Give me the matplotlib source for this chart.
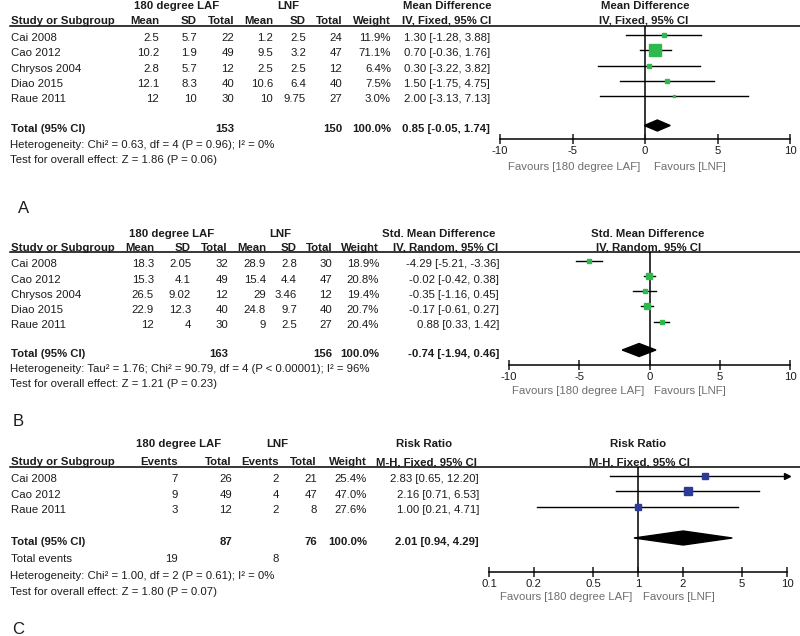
import matplotlib
matplotlib.use('Agg')
import matplotlib.pyplot as plt
from matplotlib.lines import Line2D
from matplotlib.ticker import NullLocator

plt.rcParams['font.family'] = ['Liberation Sans', 'DejaVu Sans']
plt.rcParams['axes.unicode_minus'] = False

# ---------------- data ----------------
# Panel A : Mean Difference, IV fixed
studies_A = ["Cai 2008", "Cao 2012", "Chrysos 2004", "Diao 2015", "Raue 2011"]
laf_mean_A = [2.5, 10.2, 2.8, 12.1, 12]
laf_sd_A = [5.7, 1.9, 5.7, 8.3, 10]
laf_n_A = [22, 49, 12, 40, 30]
lnf_mean_A = [1.2, 9.5, 2.5, 10.6, 10]
lnf_sd_A = [2.5, 3.2, 2.5, 6.4, 9.75]
lnf_n_A = [24, 47, 12, 40, 27]
weight_A = [11.9, 71.1, 6.4, 7.5, 3.0]
est_A = [1.30, 0.70, 0.30, 1.50, 2.00]
lo_A = [-1.28, -0.36, -3.22, -1.75, -3.13]
hi_A = [3.88, 1.76, 3.82, 4.75, 7.13]
total_A = {"n1": 153, "n2": 150, "est": 0.85, "lo": -0.05, "hi": 1.74}
het_A = "Heterogeneity: Chi\u00b2 = 0.63, df = 4 (P = 0.96); I\u00b2 = 0%"
test_A = "Test for overall effect: Z = 1.86 (P = 0.06)"

# Panel B : Std. Mean Difference, IV random
studies_B = ["Cai 2008", "Cao 2012", "Chrysos 2004", "Diao 2015", "Raue 2011"]
laf_mean_B = [18.3, 15.3, 26.5, 22.9, 12]
laf_sd_B = [2.05, 4.1, 9.02, 12.3, 4]
laf_n_B = [32, 49, 12, 40, 30]
lnf_mean_B = [28.9, 15.4, 29, 24.8, 9]
lnf_sd_B = [2.8, 4.4, 3.46, 9.7, 2.5]
lnf_n_B = [30, 47, 12, 40, 27]
weight_B = [18.9, 20.8, 19.4, 20.7, 20.4]
est_B = [-4.29, -0.02, -0.35, -0.17, 0.88]
lo_B = [-5.21, -0.42, -1.16, -0.61, 0.33]
hi_B = [-3.36, 0.38, 0.45, 0.27, 1.42]
total_B = {"n1": 163, "n2": 156, "est": -0.74, "lo": -1.94, "hi": 0.46}
het_B = "Heterogeneity: Tau\u00b2 = 1.76; Chi\u00b2 = 90.79, df = 4 (P < 0.00001); I\u00b2 = 96%"
test_B = "Test for overall effect: Z = 1.21 (P = 0.23)"

# Panel C : Risk Ratio, M-H fixed
studies_C = ["Cai 2008", "Cao 2012", "Raue 2011"]
laf_ev_C = [7, 9, 3]
laf_n_C = [26, 49, 12]
lnf_ev_C = [2, 4, 2]
lnf_n_C = [21, 47, 8]
weight_C = [25.4, 47.0, 27.6]
est_C = [2.83, 2.16, 1.00]
lo_C = [0.65, 0.71, 0.21]
hi_C = [12.20, 6.53, 4.71]
total_C = {"n1": 87, "n2": 76, "ev1": 19, "ev2": 8, "est": 2.01, "lo": 0.94, "hi": 4.29}
het_C = "Heterogeneity: Chi\u00b2 = 1.00, df = 2 (P = 0.61); I\u00b2 = 0%"
test_C = "Test for overall effect: Z = 1.80 (P = 0.07)"

ticks_lin = [-10, -5, 0, 5, 10]
ticks_log = [0.1, 0.2, 0.5, 1, 2, 5, 10]
ticklabels_log = ["0.1", "0.2", "0.5", "1", "2", "5", "10"]
fav_left = "Favours [180 degree LAF]"
fav_right = "Favours [LNF]"

# ---------------- style ----------------
W, H = 800, 636
FS = 8.2
TXT = '#1c1c1c'
GRAY = '#6e6e6e'
GREEN = '#2fb84e'
BLUE = '#2c3b98'

fig = plt.figure(figsize=(W / 100, H / 100), dpi=100)


def T(x, y, s, ha='left', bold=False, color=TXT, size=FS):
    cap = 0.716 * size * 100 / 72
    fig.text(x / W, 1 - (y + cap / 2) / H, s, ha=ha, va='baseline', fontsize=size,
             fontweight='bold' if bold else 'normal', color=color)


def hline(y, x0=10, x1=800):
    fig.add_artist(Line2D([x0 / W, x1 / W], [1 - y / H, 1 - y / H], color='black', lw=1.1))


def fmt(v):
    return str(v)


def ci(e, l, h):
    return f"{e:.2f} [{l:.2f}, {h:.2f}]"


def forest_axes(x0, x1, y0, y1, xlim, log=False):
    ax = fig.add_axes([x0 / W, 1 - y1 / H, (x1 - x0) / W, (y1 - y0) / H])
    ax.set_facecolor('none')
    if log:
        ax.set_xscale('log')
    ax.set_xlim(*xlim)
    ax.set_ylim(y1, y0)
    for s in ['top', 'right', 'left']:
        ax.spines[s].set_visible(False)
    ax.spines['bottom'].set_linewidth(1.1)
    ax.tick_params(axis='x', direction='inout', length=7, width=1.1, pad=2,
                   labelsize=FS, colors=TXT)
    ax.set_yticks([])
    ax.xaxis.set_minor_locator(NullLocator())
    return ax


def draw_rows(ax, ys, est, lo, hi, w, k, color, xmax=None):
    for y, e, l, h, wt in zip(ys, est, lo, hi, w):
        hh = h if xmax is None else min(h, xmax)
        ax.plot([l, hh], [y, y], color='black', lw=1.0, zorder=2, clip_on=False)
        if xmax is not None and h > xmax:
            ax.plot(xmax, y, marker='>', ms=5, color='black', zorder=2, clip_on=False)
        side = k * wt ** 0.5 * 0.72
        ax.plot(e, y, marker='s', ms=side, color=color, mec=color, zorder=3, clip_on=False)


def diamond(ax, y, e, l, h, half):
    ax.fill([l, e, h, e], [y, y - half, y, y + half], color='black', zorder=3, clip_on=False)


# ================= Panel A =================
rows_A = [36.5, 52, 67.5, 82.5, 98]
T(177, 5, "180 degree LAF", 'center', True)
T(288, 5, "LNF", 'center', True)
T(447, 5, "Mean Difference", 'center', True)
T(645, 5, "Mean Difference", 'center', True)
yh = 19.5
T(11, yh, "Study or Subgroup", bold=True)
for x, s in [(159, "Mean"), (197, "SD"), (234, "Total"), (273, "Mean"), (306, "SD"),
             (342, "Total"), (391, "Weight")]:
    T(x, yh, s, 'right', True)
T(447, yh, "IV, Fixed, 95% CI", 'center', True)
T(644, yh, "IV, Fixed, 95% CI", 'center', True)
hline(26)
for i, y in enumerate(rows_A):
    T(11, y, studies_A[i])
    T(159, y, fmt(laf_mean_A[i]), 'right')
    T(197, y, fmt(laf_sd_A[i]), 'right')
    T(234, y, fmt(laf_n_A[i]), 'right')
    T(273, y, fmt(lnf_mean_A[i]), 'right')
    T(306, y, fmt(lnf_sd_A[i]), 'right')
    T(342, y, fmt(lnf_n_A[i]), 'right')
    T(391, y, f"{weight_A[i]:.1f}%", 'right')
    T(490, y, ci(est_A[i], lo_A[i], hi_A[i]), 'right')
yt = 128
T(11, yt, "Total (95% CI)", bold=True)
T(234, yt, fmt(total_A["n1"]), 'right', True)
T(342, yt, fmt(total_A["n2"]), 'right', True)
T(391, yt, "100.0%", 'right', True)
T(490, yt, ci(total_A["est"], total_A["lo"], total_A["hi"]), 'right', True)
T(10, 144, het_A)
T(10, 159, test_A)
T(24, 207, "A", 'center', size=12)

axA = forest_axes(500, 790, 26, 138.5, (-10, 10))
axA.axvline(0, color='black', lw=1.1, zorder=1)
axA.set_xticks(ticks_lin)
draw_rows(axA, [y - 2 for y in rows_A], est_A, lo_A, hi_A, weight_A, 1.42, GREEN)
diamond(axA, yt - 2.5, total_A["est"], total_A["lo"], total_A["hi"], 5.5)
T(640, 166, fav_left, 'right', color=GRAY)
T(654, 166, fav_right, 'left', color=GRAY)

# ================= Panel B =================
rows_B = [263, 278.5, 293.5, 308.5, 324]
T(172, 233, "180 degree LAF", 'center', True)
T(280, 233, "LNF", 'center', True)
T(439, 233, "Std. Mean Difference", 'center', True)
T(648, 233, "Std. Mean Difference", 'center', True)
yh = 246.5
T(11, yh, "Study or Subgroup", bold=True)
for x, s in [(154, "Mean"), (191, "SD"), (228, "Total"), (266, "Mean"), (297, "SD"),
             (332, "Total"), (379, "Weight")]:
    T(x, yh, s, 'right', True)
T(446, yh, "IV, Random, 95% CI", 'center', True)
T(649, yh, "IV, Random, 95% CI", 'center', True)
hline(252)
for i, y in enumerate(rows_B):
    T(11, y, studies_B[i])
    T(154, y, fmt(laf_mean_B[i]), 'right')
    T(191, y, fmt(laf_sd_B[i]), 'right')
    T(228, y, fmt(laf_n_B[i]), 'right')
    T(266, y, fmt(lnf_mean_B[i]), 'right')
    T(297, y, fmt(lnf_sd_B[i]), 'right')
    T(332, y, fmt(lnf_n_B[i]), 'right')
    T(379, y, f"{weight_B[i]:.1f}%", 'right')
    T(499, y, ci(est_B[i], lo_B[i], hi_B[i]), 'right')
yt = 353
T(11, yt, "Total (95% CI)", bold=True)
T(228, yt, fmt(total_B["n1"]), 'right', True)
T(332, yt, fmt(total_B["n2"]), 'right', True)
T(379, yt, "100.0%", 'right', True)
T(499, yt, ci(total_B["est"], total_B["lo"], total_B["hi"]), 'right', True)
T(10, 368, het_B)
T(10, 383, test_B)
T(18, 420, "B", 'center', size=12)

axB = forest_axes(509, 790, 252, 364.5, (-10, 10))
axB.axvline(0, color='black', lw=1.1, zorder=1)
axB.set_xticks(ticks_lin)
draw_rows(axB, [y - 2 for y in rows_B], est_B, lo_B, hi_B, weight_B, 1.1, GREEN)
diamond(axB, yt - 3, total_B["est"], total_B["lo"], total_B["hi"], 6.5)
T(644, 390, fav_left, 'right', color=GRAY)
T(654, 390, fav_right, 'left', color=GRAY)

# ================= Panel C =================
rows_C = [478, 493.5, 509]
T(179, 443, "180 degree LAF", 'center', True)
T(277, 443, "LNF", 'center', True)
T(424, 443, "Risk Ratio", 'center', True)
T(638, 443, "Risk Ratio", 'center', True)
yh = 461
T(11, yh, "Study or Subgroup", bold=True)
for x, s in [(178, "Events"), (232, "Total"), (279, "Events"), (317, "Total"), (367, "Weight")]:
    T(x, yh, s, 'right', True)
T(426, yh, "M-H, Fixed, 95% CI", 'center', True)
T(639, yh, "M-H, Fixed, 95% CI", 'center', True)
hline(467)
for i, y in enumerate(rows_C):
    T(11, y, studies_C[i])
    T(178, y, fmt(laf_ev_C[i]), 'right')
    T(232, y, fmt(laf_n_C[i]), 'right')
    T(279, y, fmt(lnf_ev_C[i]), 'right')
    T(317, y, fmt(lnf_n_C[i]), 'right')
    T(367, y, f"{weight_C[i]:.1f}%", 'right')
    T(479, y, ci(est_C[i], lo_C[i], hi_C[i]), 'right')
yt = 541
T(11, yt, "Total (95% CI)", bold=True)
T(232, yt, fmt(total_C["n1"]), 'right', True)
T(317, yt, fmt(total_C["n2"]), 'right', True)
T(367, yt, "100.0%", 'right', True)
T(479, yt, ci(total_C["est"], total_C["lo"], total_C["hi"]), 'right', True)
T(11, 557.5, "Total events")
T(178, 557.5, fmt(total_C["ev1"]), 'right')
T(279, 557.5, fmt(total_C["ev2"]), 'right')
T(10, 574.5, het_C)
T(10, 590.5, test_C)
T(18, 628, "C", 'center', size=12)

axC = forest_axes(489, 787, 467, 571.5, (0.1, 10), log=True)
axC.axvline(1, color='black', lw=1.1, zorder=1)
axC.set_xticks(ticks_log)
axC.set_xticklabels(ticklabels_log)
axC.xaxis.set_minor_locator(NullLocator())
draw_rows(axC, [y - 2.5 for y in rows_C], est_C, lo_C, hi_C, weight_C, 1.3, BLUE, xmax=10)
diamond(axC, yt - 3, total_C["est"], total_C["lo"], total_C["hi"], 7)
T(632, 596, fav_left, 'right', color=GRAY)
T(643, 596, fav_right, 'left', color=GRAY)

fig.savefig('out.png', dpi=100)
